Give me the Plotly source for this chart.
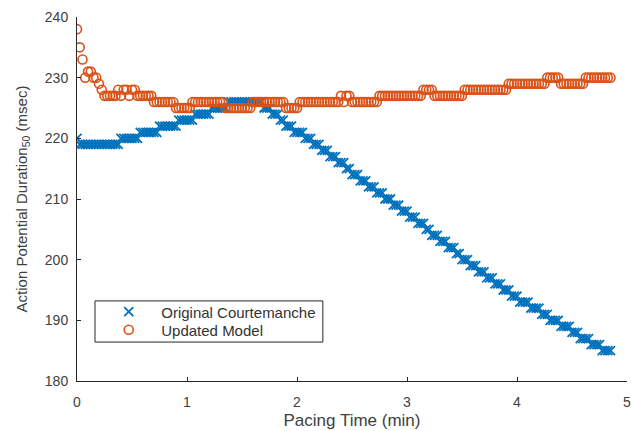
import plotly.graph_objects as go

# Pacing time samples (min)
TIME_MIN = [
    0.000, 0.025, 0.050, 0.075, 0.100, 0.125, 0.150, 0.175, 0.200, 0.225,
    0.250, 0.275, 0.300, 0.325, 0.350, 0.375, 0.400, 0.425, 0.450, 0.475,
    0.500, 0.525, 0.550, 0.575, 0.600, 0.625, 0.650, 0.675, 0.700, 0.725,
    0.750, 0.775, 0.800, 0.825, 0.850, 0.875, 0.900, 0.925, 0.950, 0.975,
    1.000, 1.025, 1.050, 1.075, 1.100, 1.125, 1.150, 1.175, 1.200, 1.225,
    1.250, 1.275, 1.300, 1.325, 1.350, 1.375, 1.400, 1.425, 1.450, 1.475,
    1.500, 1.525, 1.550, 1.575, 1.600, 1.625, 1.650, 1.675, 1.700, 1.725,
    1.750, 1.775, 1.800, 1.825, 1.850, 1.875, 1.900, 1.925, 1.950, 1.975,
    2.000, 2.025, 2.050, 2.075, 2.100, 2.125, 2.150, 2.175, 2.200, 2.225,
    2.250, 2.275, 2.300, 2.325, 2.350, 2.375, 2.400, 2.425, 2.450, 2.475,
    2.500, 2.525, 2.550, 2.575, 2.600, 2.625, 2.650, 2.675, 2.700, 2.725,
    2.750, 2.775, 2.800, 2.825, 2.850, 2.875, 2.900, 2.925, 2.950, 2.975,
    3.000, 3.025, 3.050, 3.075, 3.100, 3.125, 3.150, 3.175, 3.200, 3.225,
    3.250, 3.275, 3.300, 3.325, 3.350, 3.375, 3.400, 3.425, 3.450, 3.475,
    3.500, 3.525, 3.550, 3.575, 3.600, 3.625, 3.650, 3.675, 3.700, 3.725,
    3.750, 3.775, 3.800, 3.825, 3.850, 3.875, 3.900, 3.925, 3.950, 3.975,
    4.000, 4.025, 4.050, 4.075, 4.100, 4.125, 4.150, 4.175, 4.200, 4.225,
    4.250, 4.275, 4.300, 4.325, 4.350, 4.375, 4.400, 4.425, 4.450, 4.475,
    4.500, 4.525, 4.550, 4.575, 4.600, 4.625, 4.650, 4.675, 4.700, 4.725,
    4.750, 4.775, 4.800, 4.825, 4.850,
]

# APD50 (msec), Original Courtemanche model
APD_ORIGINAL = [
    220, 219, 219, 219, 219, 219, 219, 219, 219, 219,
    219, 219, 219, 219, 219, 219, 220, 220, 220, 220,
    220, 220, 220, 221, 221, 221, 221, 221, 221, 221,
    222, 222, 222, 222, 222, 222, 222, 223, 223, 223,
    223, 223, 223, 224, 224, 224, 224, 224, 224, 225,
    225, 225, 225, 225, 225, 226, 226, 226, 226, 226,
    226, 226, 226, 226, 226, 226, 226, 226, 225, 225,
    225, 224, 224, 224, 223, 223, 222, 222, 222, 221,
    221, 221, 221, 220, 220, 220, 219, 219, 219, 218,
    218, 218, 217, 217, 217, 216, 216, 216, 215, 215,
    214, 214, 214, 213, 213, 213, 212, 212, 212, 211,
    211, 211, 210, 210, 210, 209, 209, 209, 208, 208,
    208, 207, 207, 207, 206, 206, 206, 205, 205, 204,
    204, 204, 203, 203, 203, 202, 202, 202, 201, 201,
    200, 200, 200, 199, 199, 199, 198, 198, 198, 197,
    197, 197, 196, 196, 196, 195, 195, 195, 194, 194,
    194, 193, 193, 193, 193, 192, 192, 192, 192, 191,
    191, 191, 190, 190, 190, 190, 189, 189, 189, 189,
    188, 188, 188, 187, 187, 187, 187, 186, 186, 186,
    186, 185, 185, 185, 185,
]

# APD50 (msec), Updated model
APD_UPDATED = [
    238, 235, 233, 230, 231, 231, 230, 230, 229, 228,
    227, 227, 227, 227, 227, 228, 227, 228, 228, 227,
    228, 228, 227, 227, 227, 227, 227, 227, 226, 226,
    226, 226, 226, 226, 226, 226, 225, 225, 225, 225,
    225, 225, 226, 226, 226, 226, 226, 226, 226, 226,
    226, 226, 226, 226, 225, 225, 225, 225, 225, 225,
    225, 225, 225, 225, 226, 226, 226, 226, 226, 226,
    226, 226, 226, 226, 226, 226, 225, 225, 225, 225,
    225, 226, 226, 226, 226, 226, 226, 226, 226, 226,
    226, 226, 226, 226, 226, 226, 227, 226, 227, 227,
    226, 226, 226, 226, 226, 226, 226, 226, 226, 226,
    227, 227, 227, 227, 227, 227, 227, 227, 227, 227,
    227, 227, 227, 227, 227, 227, 228, 228, 228, 228,
    227, 227, 227, 227, 227, 227, 227, 227, 227, 227,
    227, 228, 228, 228, 228, 228, 228, 228, 228, 228,
    228, 228, 228, 228, 228, 228, 228, 229, 229, 229,
    229, 229, 229, 229, 229, 229, 229, 229, 229, 229,
    229, 230, 230, 230, 230, 230, 229, 229, 229, 229,
    229, 229, 229, 229, 229, 230, 230, 230, 230, 230,
    230, 230, 230, 230, 230,
]

X_TICKS = [0, 1, 2, 3, 4, 5]
Y_TICKS = [180, 190, 200, 210, 220, 230, 240]

BLUE = "#0072BD"
ORANGE = "#D95319"
FONT = "Liberation Sans, Arial, sans-serif"
TXT = "#404040"

fig = go.Figure()
fig.add_trace(go.Scatter(
    x=TIME_MIN, y=APD_ORIGINAL, mode="markers", name="Original Courtemanche",
    legend="legend",
    marker=dict(symbol="x-thin", size=9, color=BLUE, line=dict(width=1.8, color=BLUE)),
))
fig.add_trace(go.Scatter(
    x=TIME_MIN, y=APD_UPDATED, mode="markers", name="Updated Model",
    legend="legend2",
    marker=dict(symbol="circle-open", size=9, color=ORANGE, line=dict(width=1.6, color=ORANGE)),
))

# legend frame (drawn as a shape so its size can match the original)
fig.add_shape(
    type="rect", xref="paper", yref="paper",
    x0=0.0327, x1=0.447, y0=0.107, y1=0.220,
    line=dict(color="#262626", width=1), fillcolor="white", layer="below",
)

legend_common = dict(
    x=0.035, xanchor="left", yanchor="middle",
    bgcolor="rgba(0,0,0,0)", borderwidth=0,
    font=dict(family=FONT, size=15, color="#333333"),
    itemwidth=55, tracegroupgap=0,
)

fig.update_layout(
    width=631, height=431,
    margin=dict(l=77, r=4, t=17, b=50),
    paper_bgcolor="white", plot_bgcolor="white",
    font=dict(family=FONT, size=14, color=TXT),
    showlegend=True,
    legend=dict(y=0.1896, **legend_common),
    legend2=dict(y=0.140, **legend_common),
)
fig.update_xaxes(
    range=[0, 5], tickvals=X_TICKS, ticks="inside", ticklen=4, tickcolor="#262626",
    showline=True, linecolor="#262626", linewidth=1, mirror=False,
    showgrid=False, zeroline=False, automargin=False, ticklabeloverflow="allow",
    tickfont=dict(size=14, color=TXT), ticklabelstandoff=8,
    title=dict(text="Pacing Time (min)", font=dict(size=17, color=TXT), standoff=5),
)
fig.update_yaxes(
    range=[180, 240], tickvals=Y_TICKS, ticks="inside", ticklen=4, tickcolor="#262626",
    showline=True, linecolor="#262626", linewidth=1, mirror=False,
    showgrid=False, zeroline=False, automargin=False, ticklabeloverflow="allow",
    tickfont=dict(size=14, color=TXT), ticklabelstandoff=5,
    title=dict(text="Action Potential Duration<sub>50</sub> (msec)", font=dict(size=15, color=TXT), standoff=13),
)

fig.write_html("out.html", config={"displayModeBar": False},
               post_script="document.body.style.margin='0px';")
